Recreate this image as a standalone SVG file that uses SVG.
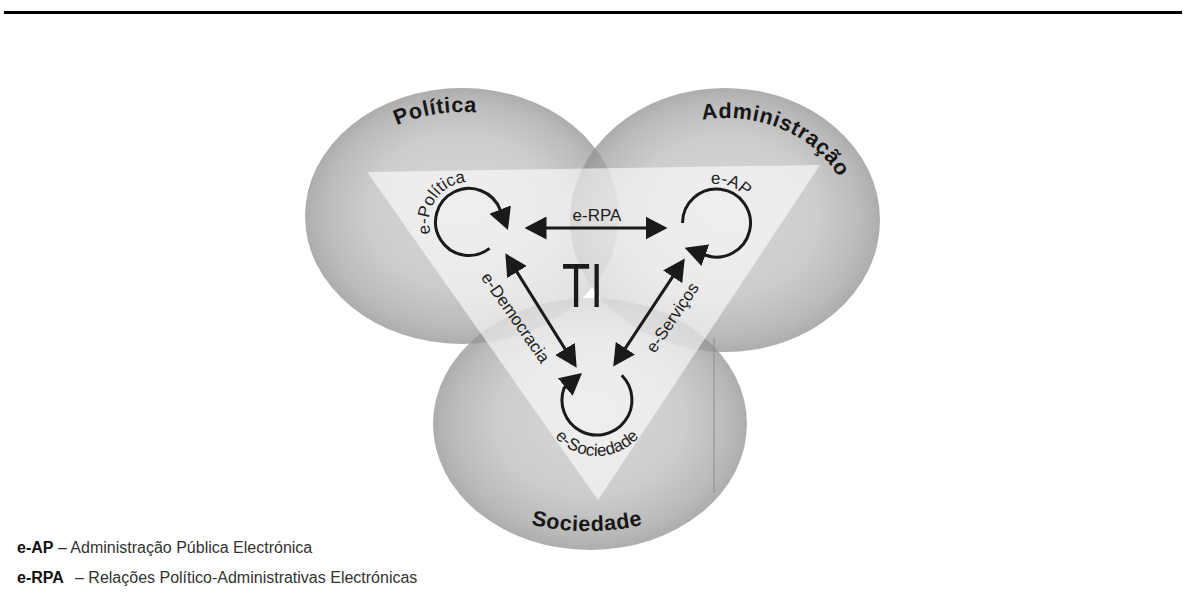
<svg xmlns="http://www.w3.org/2000/svg" width="1186" height="615" viewBox="0 0 1186 615">
<style>
.sphere{fill:url(#sph);fill-opacity:0.74}
.big{font-family:"Liberation Sans",Arial,sans-serif;font-weight:bold;font-size:21.5px;fill:#161616;letter-spacing:0.6px}
.lbl{font-family:"Liberation Sans",Arial,sans-serif;font-size:17px;fill:#1e1e1e}
.ln{fill:none;stroke:#1a1a1a;stroke-width:3}
.dbl{marker-start:url(#ahs);marker-end:url(#ah)}
.loop{marker-end:url(#ah)}
.leg{font-family:"Liberation Sans",Arial,sans-serif;font-size:16px;fill:#333}
.legb{font-weight:bold;fill:#111}
</style>
<defs>
<radialGradient id="sph" cx="0.5" cy="0.5" r="0.5" fx="0.5" fy="0.45">
<stop offset="0" stop-color="#c8c8c8"/>
<stop offset="0.6" stop-color="#bbbbbb"/>
<stop offset="0.9" stop-color="#a0a0a0"/>
<stop offset="1" stop-color="#909090"/>
</radialGradient>
<marker id="ah" viewBox="0 -11.5 22 23" refX="0.5" refY="0" markerWidth="22" markerHeight="23" markerUnits="userSpaceOnUse" orient="auto"><path d="M0,-11.5 L22,0 L0,11.5 Z" fill="#1a1a1a"/></marker>
<marker id="ahs" viewBox="0 -11.5 22 23" refX="0.5" refY="0" markerWidth="22" markerHeight="23" markerUnits="userSpaceOnUse" orient="auto-start-reverse"><path d="M0,-11.5 L22,0 L0,11.5 Z" fill="#1a1a1a"/></marker>
<path id="pPol" d="M 353.9 156.3 A 132 104 0 0 1 528 125.9"/>
<path id="pAdm" d="M 692.6 121.5 A 125 102 0 0 1 849.5 211.1"/>
<path id="pSoc" d="M 482 508 A 250 250 0 0 0 692 508"/>
<path id="pEP" d="M 434.4 242 A 40 40 0 0 1 482.7 184.4"/>
<path id="pEAP" d="M 694.1 191.05 A 39 39 0 0 1 754.2 212.9"/>
<path id="pES" d="M 544.4 419.2 A 56 56 0 0 0 649.6 419.2"/>
</defs>
<rect width="1186" height="615" fill="#ffffff"/>
<line x1="4" y1="12.5" x2="1182" y2="12.5" stroke="#000" stroke-width="3"/>

<g id="node-politica">
<ellipse class="sphere" cx="462" cy="216" rx="157" ry="128"/>
</g>
<g id="node-administracao">
<ellipse class="sphere" cx="725" cy="220" rx="155" ry="132"/>
</g>
<g id="node-sociedade">
<ellipse class="sphere" cx="590" cy="424" rx="157" ry="126"/>
</g>
<line x1="714" y1="338" x2="714" y2="493" stroke="#8c8c8c" stroke-width="1"/>
<g id="node-ti">
<polygon points="367,172 820,165 598,500" fill="#ffffff" fill-opacity="0.6"/>
<text x="562" y="307" font-family="'Liberation Sans',Arial,sans-serif" font-size="63" fill="#1a1a1a" textLength="41" lengthAdjust="spacingAndGlyphs">TI</text>
</g>

<g id="labels-spheres">
<text class="big"><textPath href="#pPol" startOffset="50%" text-anchor="middle">Política</textPath></text>
<text class="big"><textPath href="#pAdm" startOffset="10">Administração</textPath></text>
<text class="big"><textPath href="#pSoc" startOffset="50%" text-anchor="middle">Sociedade</textPath></text>
</g>

<g id="connectors">
<path id="loop-epolitica" class="ln loop" d="M 489.6 248.4 A 33.5 33.5 0 1 1 500.3 210"/>
<path id="loop-eap" class="ln loop" d="M 682.5 223 A 34 34 0 1 1 704.9 255"/>
<path id="loop-esociedade" class="ln loop" d="M 621.7 375.3 A 35 35 0 1 1 564.1 388 l 1.5 -1.26"/>
<path id="erpa" class="ln dbl" d="M 546 228 L 646 228"/>
<path id="edemocracia" class="ln dbl" d="M 516.7 271.6 L 565.3 349.4"/>
<path id="eservicos" class="ln dbl" d="M 625.1 348.6 L 672.9 276.4"/>
<text class="lbl"><textPath href="#pEP" startOffset="46%" text-anchor="middle">e-Política</textPath></text>
<text class="lbl"><textPath href="#pEAP" startOffset="50%" text-anchor="middle">e-AP</textPath></text>
<text class="lbl"><textPath href="#pES" startOffset="50%" text-anchor="middle">e-Sociedade</textPath></text>
<text class="lbl" x="597" y="221" text-anchor="middle">e-RPA</text>
<text class="lbl" transform="translate(515,318) rotate(55)" y="5" text-anchor="middle" font-size="18">e-Democracia</text>
<text class="lbl" transform="translate(673,318) rotate(-56)" y="5" text-anchor="middle">e-Serviços</text>
</g>

<g id="legend">
<text class="leg" x="17" y="553"><tspan class="legb">e-AP</tspan> – Administração Pública Electrónica</text>
<text class="leg" x="17" y="583"><tspan class="legb">e-RPA</tspan><tspan x="75">– Relações Político-Administrativas Electrónicas</tspan></text>
</g>
</svg>
